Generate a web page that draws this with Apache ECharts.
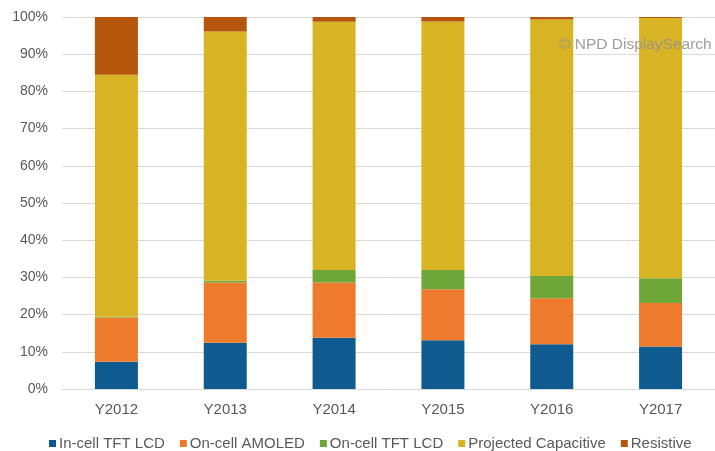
<!DOCTYPE html>
<html>
<head>
<meta charset="utf-8">
<script src="https://cdn.jsdelivr.net/npm/echarts@6/dist/echarts.min.js"></script>
<style>html,body{margin:0;padding:0;background:#fff}#c{width:715px;height:451px}</style>
</head>
<body>
<div id="c"></div>
<script>
const categories = ['Y2012','Y2013','Y2014','Y2015','Y2016','Y2017'];
const inCellTFT   = [7.3, 12.4, 13.8, 13.1, 12.0, 11.4];
const onCellAMOLED= [11.9, 16.2, 14.8, 13.7, 12.4, 11.7];
const onCellTFT   = [0.2, 0.5, 3.4, 5.2, 6.0, 6.7];
const projectedCap= [65.1, 67.0, 66.7, 66.8, 68.9, 69.9];
const resistive   = [15.5, 3.9, 1.3, 1.2, 0.7, 0.3];
const yTicks = [0,10,20,30,40,50,60,70,80,90,100];

const names = ['In-cell TFT LCD','On-cell AMOLED','On-cell TFT LCD','Projected Capacitive','Resistive'];
const colors = ['#0f5b8f','#ee7b2c','#6ea63a','#d8b323','#b5560c'];
const datas = [inCellTFT, onCellAMOLED, onCellTFT, projectedCap, resistive];

const chart = echarts.init(document.getElementById('c'), null, {renderer:'canvas'});
const font = 'Liberation Sans, Arial, sans-serif';
chart.setOption({
  animation:false,
  textStyle:{fontFamily:font},
  grid:{left:62, top:17, right:-4, height:372, containLabel:false},
  xAxis:{type:'category', data:categories,
    axisLine:{show:true, lineStyle:{color:'#d9d9d9'}}, axisTick:{show:false},
    axisLabel:{color:'#595959', fontSize:15, margin:13, fontFamily:font}},
  yAxis:{type:'value', min:yTicks[0], max:yTicks[yTicks.length-1], interval:10,
    axisLine:{show:false}, axisTick:{show:false},
    splitLine:{lineStyle:{color:'#d9d9d9'}},
    axisLabel:{color:'#595959', fontSize:14, margin:14, formatter:'{value}%', fontFamily:font}},
  legend:{top:431, left:44, icon:'rect', itemWidth:7, itemHeight:7, itemGap:15,
    textStyle:{color:'#595959', fontSize:15, fontFamily:font, padding:[0,0,0,-2]},
    data:names},
  graphic:[{type:'text', left:559, top:37, z:100,
    style:{text:'© NPD DisplaySearch', fill:'#939393', opacity:0.9, font:'15.5px Liberation Sans, Arial, sans-serif'}}],
  series: names.map((n,i)=>({name:n, type:'bar', stack:'s', barWidth:43,
    itemStyle:{color:colors[i]}, data:datas[i]}))
});
</script>
</body>
</html>
